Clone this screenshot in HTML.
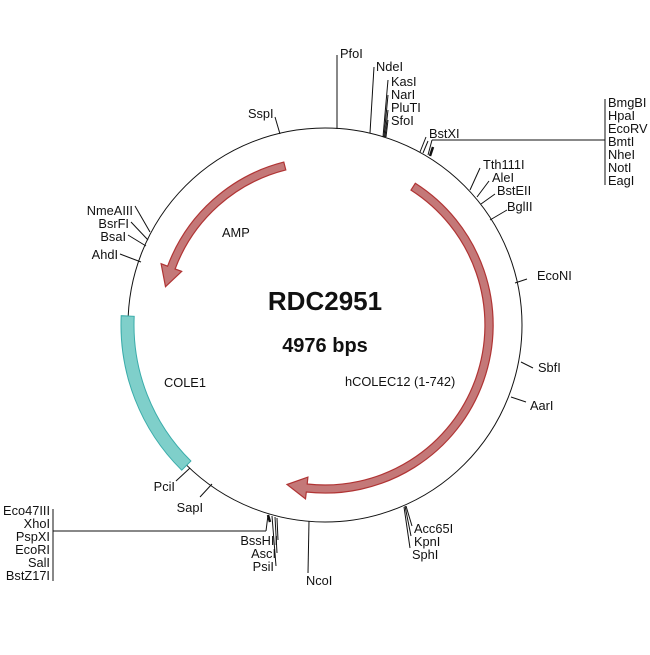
<!DOCTYPE html>
<html><head><meta charset="utf-8"><style>
html,body{margin:0;padding:0;background:#fff}
svg text{font-family:"Liberation Sans",Arial,sans-serif;font-size:12.8px;fill:#111}
</style></head><body>
<svg width="650" height="650" viewBox="0 0 650 650" xmlns="http://www.w3.org/2000/svg">
<rect width="650" height="650" fill="#fff"/>
<circle cx="325" cy="325" r="197" fill="none" stroke="#111" stroke-width="1"/>
<path d="M190.9,461.0 A191,191 0 0 1 134.2,316.3 L121.2,315.7 A204,204 0 0 0 181.7,470.2 Z" fill="#7fcfca" stroke="#3aacaa" stroke-width="1"/>
<path d="M283.8,162.1 A168,168 0 0 0 167.6,266.2 L161.1,263.7 L165.5,286.7 L181.7,271.4 L175.1,269.0 A160,160 0 0 1 285.8,169.9 Z" fill="#c47878" stroke="#b03434" stroke-width="1.2"/>
<path d="M415.3,183.3 A168,168 0 0 1 306.3,492.0 L305.5,498.9 L287.0,484.5 L307.9,477.1 L307.2,484.0 A160,160 0 0 0 411.0,190.1 Z" fill="#c47878" stroke="#b03434" stroke-width="1.2"/>

<text x="325" y="310" text-anchor="middle" style="font-size:26px;font-weight:bold">RDC2951</text>
<text x="325" y="352" text-anchor="middle" style="font-size:20px;font-weight:bold">4976 bps</text>
<text x="222" y="237">AMP</text>
<text x="164" y="387">COLE1</text>
<text x="345" y="386">hCOLEC12 (1-742)</text>

<g stroke="#111" stroke-width="1" fill="none">
<line x1="337" y1="129" x2="337" y2="55"/>
<line x1="370" y1="133" x2="374" y2="67"/>
<line x1="383" y1="137" x2="388" y2="80"/>
<line x1="384" y1="137" x2="388" y2="95"/>
<line x1="385" y1="137" x2="388" y2="110"/>
<line x1="386" y1="137" x2="388" y2="120"/>
<line x1="280" y1="134" x2="275" y2="117"/>
<line x1="420" y1="152" x2="426" y2="137"/>
<line x1="423" y1="153" x2="428" y2="141"/>
<line x1="428" y1="155" x2="432" y2="140"/>
<line x1="430" y1="156" x2="433" y2="147" stroke-width="2.5"/>
<line x1="432" y1="140" x2="605" y2="140"/>
<line x1="605" y1="99" x2="605" y2="185"/>
<line x1="470" y1="190" x2="480" y2="168"/>
<line x1="477" y1="197" x2="489" y2="181"/>
<line x1="481" y1="204" x2="495" y2="194"/>
<line x1="490" y1="220" x2="507" y2="210"/>
<line x1="515" y1="283" x2="527" y2="279"/>
<line x1="521" y1="362" x2="533" y2="368"/>
<line x1="511" y1="397" x2="526" y2="402"/>
<line x1="404" y1="507" x2="410" y2="548"/>
<line x1="405" y1="506" x2="411" y2="536"/>
<line x1="406" y1="506" x2="412" y2="526"/>
<line x1="309" y1="521" x2="308" y2="573"/>
<line x1="272" y1="516" x2="276" y2="566"/>
<line x1="275" y1="517" x2="277" y2="553"/>
<line x1="277" y1="518" x2="278" y2="540"/>
<line x1="266" y1="531" x2="53" y2="531"/>
<line x1="266" y1="531" x2="268" y2="515"/>
<line x1="268" y1="515" x2="270" y2="522" stroke-width="2.5"/>
<line x1="53" y1="509" x2="53" y2="581"/>
<line x1="212" y1="484" x2="200" y2="497"/>
<line x1="190" y1="468" x2="176" y2="481"/>
<line x1="150" y1="232" x2="135" y2="206"/>
<line x1="148" y1="240" x2="131" y2="222"/>
<line x1="146" y1="246" x2="128" y2="235"/>
<line x1="141" y1="262" x2="120" y2="254"/>
</g>

<g>
<text x="340" y="58">PfoI</text>
<text x="376" y="71">NdeI</text>
<text x="391" y="86">KasI</text>
<text x="391" y="99">NarI</text>
<text x="391" y="112">PluTI</text>
<text x="391" y="125">SfoI</text>
<text x="248" y="118">SspI</text>
<text x="429" y="138">BstXI</text>
<text x="608" y="107">BmgBI</text>
<text x="608" y="120">HpaI</text>
<text x="608" y="133">EcoRV</text>
<text x="608" y="146">BmtI</text>
<text x="608" y="159">NheI</text>
<text x="608" y="172">NotI</text>
<text x="608" y="185">EagI</text>
<text x="483" y="169">Tth111I</text>
<text x="492" y="182">AleI</text>
<text x="497" y="195">BstEII</text>
<text x="507" y="211">BglII</text>
<text x="537" y="280">EcoNI</text>
<text x="538" y="372">SbfI</text>
<text x="530" y="410">AarI</text>
<text x="414" y="533">Acc65I</text>
<text x="414" y="546">KpnI</text>
<text x="412" y="559">SphI</text>
<text x="306" y="585">NcoI</text>
<text x="278" y="545" text-anchor="end">BssHII</text>
<text x="276" y="558" text-anchor="end">AscI</text>
<text x="274" y="571" text-anchor="end">PsiI</text>
<text x="50" y="515" text-anchor="end">Eco47III</text>
<text x="50" y="528" text-anchor="end">XhoI</text>
<text x="50" y="541" text-anchor="end">PspXI</text>
<text x="50" y="554" text-anchor="end">EcoRI</text>
<text x="50" y="567" text-anchor="end">SalI</text>
<text x="50" y="580" text-anchor="end">BstZ17I</text>
<text x="203" y="512" text-anchor="end">SapI</text>
<text x="175" y="491" text-anchor="end">PciI</text>
<text x="133" y="215" text-anchor="end">NmeAIII</text>
<text x="129" y="228" text-anchor="end">BsrFI</text>
<text x="126" y="241" text-anchor="end">BsaI</text>
<text x="118" y="259" text-anchor="end">AhdI</text>
</g>
</svg>
</body></html>
